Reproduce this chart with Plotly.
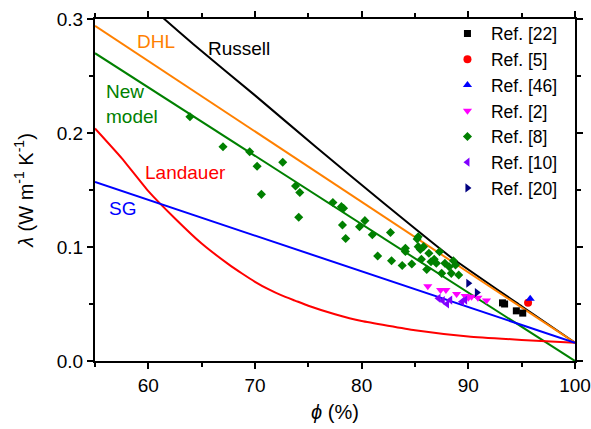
import plotly.graph_objects as go

# ---------------- data ----------------
# model curves (porosity % , conductivity W m-1 K-1)
russell_phi = [60, 61.5, 64.2, 70, 75.8, 82.0, 88.3, 95, 100]
russell_k = [0.312, 0.300, 0.278, 0.233, 0.187, 0.139, 0.0915, 0.048, 0.016]
dhl_phi = [55, 100]
dhl_k = [0.294, 0.016]
new_phi = [55, 100]
new_k = [0.270, 0.0]
sg_phi = [55, 100]
sg_k = [0.157, 0.016]
landauer_phi = [55, 57.5, 60, 62.5, 65, 67.5, 68.75, 70, 71.25, 72.5, 73.75, 75, 77.5, 80, 85,
                90, 95, 100]
landauer_k = [0.204, 0.178, 0.149, 0.125, 0.103, 0.085, 0.077, 0.0695, 0.063, 0.0575, 0.053,
              0.0485, 0.041, 0.035, 0.027, 0.0215, 0.0185, 0.016]

# experimental data
ref22_phi = [93.2, 93.4, 94.5, 95.1]
ref22_k = [0.051, 0.050, 0.044, 0.042]
ref5_phi = [95.6]
ref5_k = [0.0512]
ref46_phi = [95.8]
ref46_k = [0.0545]
ref2_phi = [86.2, 87.4, 87.9, 88.9, 89.7, 90.0, 90.3, 90.9, 91.7]
ref2_k = [0.0655, 0.0623, 0.0623, 0.0588, 0.0570, 0.0555, 0.0564, 0.0555, 0.0530]
ref8_phi = [63.9, 67.0, 69.5, 70.2, 72.6, 70.6, 73.8, 74.2, 74.1, 77.3, 78.1, 78.3, 78.2, 78.5,
            79.8, 80.3, 81.0, 82.7, 84.1, 85.3, 85.3, 85.8, 81.5, 82.8, 83.8, 84.1, 84.7, 85.2,
            85.5, 85.6, 86.1, 86.3, 86.8, 87.0, 87.3, 87.5, 87.8, 88.2, 88.4, 88.6, 89.1, 88.8, 86.5]
ref8_k = [0.2143, 0.188, 0.1836, 0.1708, 0.1743, 0.1462, 0.1535, 0.1478, 0.1261, 0.139, 0.1354,
          0.134, 0.1193, 0.1075, 0.1178, 0.1231, 0.1108, 0.1127, 0.0989, 0.109, 0.1003, 0.1003,
          0.0921, 0.088, 0.0838, 0.096, 0.0851, 0.107, 0.0978, 0.0892, 0.0803, 0.0945, 0.0892,
          0.0857, 0.0959, 0.0769, 0.0857, 0.0827, 0.0769, 0.088, 0.0754, 0.0842, 0.0871]
ref10_phi = [87.2, 87.6, 88.0, 88.3, 89.4, 89.7]
ref10_k = [0.0550, 0.0530, 0.0500, 0.0535, 0.0520, 0.0535]
ref20_phi = [90.0, 90.8]
ref20_k = [0.0682, 0.0600]

x_ticks = [60, 70, 80, 90, 100]
y_ticks = [0.0, 0.1, 0.2, 0.3]

FONT = "Arial, Liberation Sans, sans-serif"

fig = go.Figure()

# model lines
lines = [
    (russell_phi, russell_k, "black"),
    (dhl_phi, dhl_k, "#ff8000"),
    (new_phi, new_k, "#008000"),
    (landauer_phi, landauer_k, "#ff0000"),
    (sg_phi, sg_k, "#0000ff"),
]
for px, py, c in lines:
    fig.add_trace(go.Scatter(x=px, y=py, mode="lines", showlegend=False,
                             line=dict(color=c, width=2, shape="spline", smoothing=0.4),
                             hoverinfo="skip"))

# data markers
series = [
    ("Ref. [22]", ref22_phi, ref22_k, "square", "black", 7),
    ("Ref. [5]", ref5_phi, ref5_k, "circle", "#ff0000", 8),
    ("Ref. [46]", ref46_phi, ref46_k, "triangle-up", "#0000ff", 8),
    ("Ref. [2]", ref2_phi, ref2_k, "triangle-down", "#ff00ff", 8),
    ("Ref. [8]", ref8_phi, ref8_k, "diamond", "#008000", 7),
    ("Ref. [10]", ref10_phi, ref10_k, "triangle-left", "#8000ff", 8),
    ("Ref. [20]", ref20_phi, ref20_k, "triangle-right", "#000080", 8),
]
for name, px, py, sym, c, s in series:
    fig.add_trace(go.Scatter(x=px, y=py, mode="markers", name=name,
                             marker=dict(symbol=sym, color=c, size=s, line=dict(width=0))))

# curve labels
labels = [
    ("DHL", 60.69, 0.280, "#ff8000", "center"),
    ("Russell", 68.5, 0.274, "black", "center"),
    ("New<br>model", 55.85, 0.2254, "#008000", "left"),
    ("Landauer", 63.44, 0.165, "#ff0000", "center"),
    ("SG", 57.56, 0.134, "#0000ff", "center"),
]
for t, ax, ay, c, anc in labels:
    fig.add_annotation(x=ax, y=ay, xref="x", yref="y", text=t, showarrow=False,
                       xanchor=anc, yanchor="middle", align="left",
                       font=dict(family=FONT, size=19, color=c))

axis_common = dict(showline=True, linecolor="black", linewidth=2, mirror="ticks",
                   ticks="outside", tickwidth=2, ticklen=6, tickcolor="black",
                   showgrid=False, zeroline=False, automargin=False,
                   tickfont=dict(family=FONT, size=19, color="black"))

fig.update_xaxes(range=[55, 100], tickvals=x_ticks, ticktext=[str(v) for v in x_ticks],
                 minor=dict(dtick=5, tick0=55, ticks="outside", ticklen=4, tickwidth=2,
                            tickcolor="black", showgrid=False),
                 title=dict(text="<i>ϕ</i> (%)", font=dict(family=FONT, size=20, color="black"),
                            standoff=10),
                 **axis_common)
fig.update_yaxes(range=[0, 0.3], tickvals=y_ticks, ticktext=[f"{v:.1f}" for v in y_ticks],
                 minor=dict(dtick=0.05, tick0=0, ticks="outside", ticklen=4, tickwidth=2,
                            tickcolor="black", showgrid=False),
                 title=dict(text="<i>λ</i> (W m<sup>-1</sup> K<sup>-1</sup>)",
                            font=dict(family=FONT, size=20, color="black"), standoff=18),
                 **axis_common)

fig.update_layout(
    width=591, height=429,
    margin=dict(l=95, r=16, t=19, b=68),
    paper_bgcolor="white", plot_bgcolor="white",
    font=dict(family=FONT, size=19, color="black"),
    legend=dict(x=0.727, y=1.01, xanchor="left", yanchor="top",
                bgcolor="rgba(0,0,0,0)", borderwidth=0,
                font=dict(family=FONT, size=17.5, color="black"),
                tracegroupgap=0, itemsizing="trace", itemwidth=37),
)

fig.write_html("out.html", config={"displayModeBar": False},
               post_script="document.body.style.margin='0px';document.body.style.overflow='hidden';")
